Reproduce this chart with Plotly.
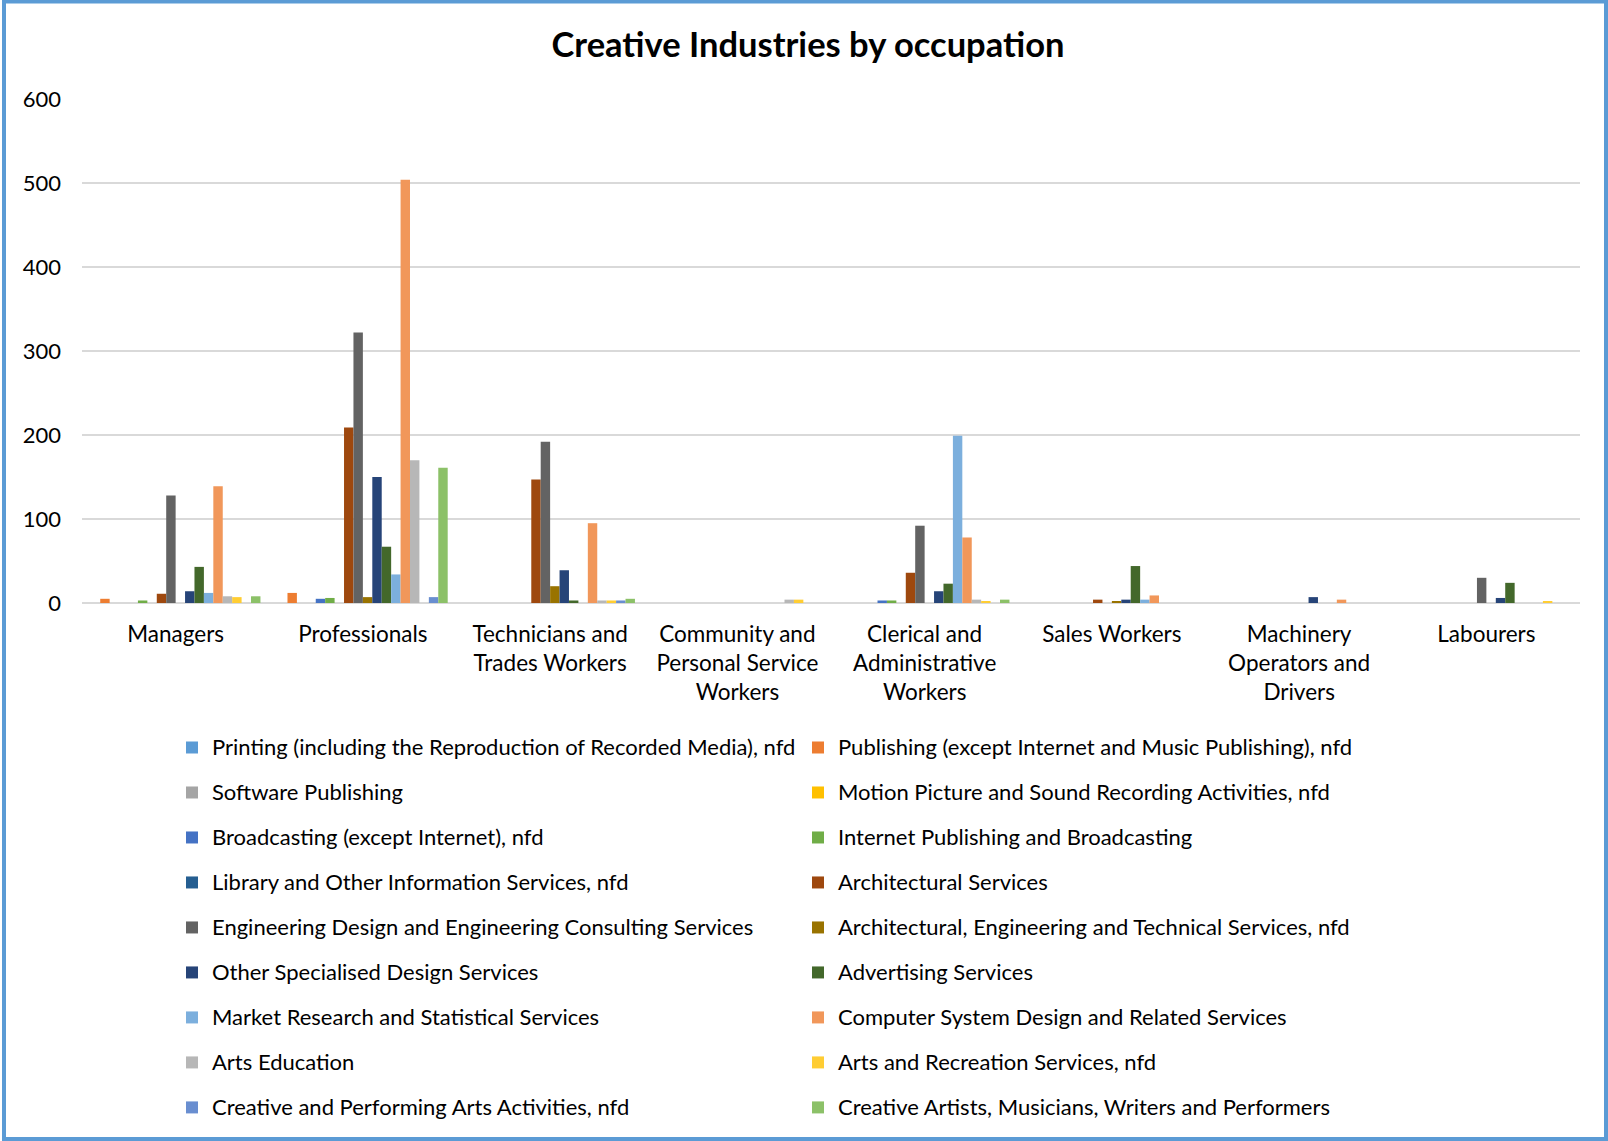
import plotly.graph_objects as go

# Occupation groups on the category axis
occupations = [
    "Managers",
    "Professionals",
    "Technicians and<br>Trades Workers",
    "Community and<br>Personal Service<br>Workers",
    "Clerical and<br>Administrative<br>Workers",
    "Sales Workers",
    "Machinery<br>Operators and<br>Drivers",
    "Labourers",
]

# Industry series (legend order)
industries = [
    "Printing (including the Reproduction of Recorded Media), nfd",
    "Publishing (except Internet and Music Publishing), nfd",
    "Software Publishing",
    "Motion Picture and Sound Recording Activities, nfd",
    "Broadcasting (except Internet), nfd",
    "Internet Publishing and Broadcasting",
    "Library and Other Information Services, nfd",
    "Architectural Services",
    "Engineering Design and Engineering Consulting Services",
    "Architectural, Engineering and Technical Services, nfd",
    "Other Specialised Design Services",
    "Advertising Services",
    "Market Research and Statistical Services",
    "Computer System Design and Related Services",
    "Arts Education",
    "Arts and Recreation Services, nfd",
    "Creative and Performing Arts Activities, nfd",
    "Creative Artists, Musicians, Writers and Performers",
]

# Counts per industry, one value per occupation group
printing            = [0, 0, 0, 0, 0, 0, 0, 0]
publishing          = [5, 12, 0, 0, 0, 0, 0, 0]
software_publishing = [0, 0, 0, 0, 0, 0, 0, 0]
motion_picture      = [0, 0, 0, 0, 0, 0, 0, 0]
broadcasting        = [0, 5, 0, 0, 3, 0, 0, 0]
internet_publishing = [3, 6, 0, 0, 3, 0, 0, 0]
library_services    = [0, 0, 0, 0, 0, 0, 0, 0]
architectural       = [11, 209, 147, 0, 36, 4, 0, 0]
engineering_design  = [128, 322, 192, 0, 92, 0, 0, 30]
arch_eng_tech_nfd   = [0, 7, 20, 0, 0, 2, 0, 0]
specialised_design  = [14, 150, 39, 0, 14, 4, 7, 6]
advertising         = [43, 67, 3, 0, 23, 44, 0, 24]
market_research     = [12, 34, 0, 0, 199, 4, 0, 0]
computer_systems    = [139, 504, 95, 0, 78, 9, 4, 0]
arts_education      = [8, 170, 3, 4, 4, 0, 0, 0]
arts_recreation     = [7, 0, 3, 4, 2, 0, 0, 2]
performing_arts     = [0, 7, 3, 0, 0, 0, 0, 0]
creative_artists    = [8, 161, 5, 0, 4, 0, 0, 0]

series_values = [
    printing, publishing, software_publishing, motion_picture, broadcasting,
    internet_publishing, library_services, architectural, engineering_design,
    arch_eng_tech_nfd, specialised_design, advertising, market_research,
    computer_systems, arts_education, arts_recreation, performing_arts,
    creative_artists,
]

colors = [
    "#5B9BD5", "#ED7D31", "#A5A5A5", "#FFC000", "#4472C4", "#70AD47",
    "#255E91", "#9E480E", "#636363", "#997300", "#264478", "#43682B",
    "#7CAFDD", "#F1975A", "#B7B7B7", "#FFCD33", "#698ED0", "#8CC168",
]

y_ticks = [0, 100, 200, 300, 400, 500, 600]

FONT = "Lato"
W, H = 1608, 1141
ML, MR, MT, MB = 82, 28, 99, 538
PW, PH = W - ML - MR, H - MT - MB

fig = go.Figure()
for name, vals, col in zip(industries, series_values, colors):
    fig.add_trace(go.Bar(
        x=occupations,
        y=vals,
        name=f"<span style='font-size:22px;baseline-shift:5px'>{name}</span>",
        marker=dict(color=col, line=dict(width=0)),
    ))


def px_x(p):
    return (p - ML) / PW


def px_y(p):
    return (H - MB - p) / PH


# Outer frame around the whole chart
fig.add_shape(
    type="rect", xref="paper", yref="paper",
    x0=px_x(4), x1=px_x(1606), y0=px_y(1139), y1=px_y(1.5),
    line=dict(color="#5B9BD5", width=4), layer="above",
)

fig.update_layout(
    width=W, height=H,
    margin=dict(l=ML, r=MR, t=MT, b=MB, autoexpand=False),
    paper_bgcolor="white", plot_bgcolor="white",
    font=dict(family=FONT, color="#000000", size=22),
    title=dict(
        text="<b>Creative Industries by occupation</b>",
        x=808 / W, xref="container", xanchor="center",
        y=1 - 45 / H, yref="container", yanchor="middle",
        font=dict(family=FONT, size=34.5, color="#000000"),
    ),
    barmode="group",
    bargap=0.094,
    bargroupgap=0,
    xaxis=dict(
        showgrid=False, showline=False, zeroline=False, ticks="",
        tickfont=dict(family=FONT, size=22.5, color="#000000"),
        ticklabelstandoff=15,
    ),
    yaxis=dict(
        range=[0, 600], tickvals=y_ticks,
        showgrid=True, gridcolor="#D9D9D9", gridwidth=1.5,
        zeroline=True, zerolinecolor="#D9D9D9", zerolinewidth=1.5,
        showline=False, ticks="",
        tickfont=dict(family=FONT, size=22, color="#000000"),
        ticklabelstandoff=20,
    ),
    legend=dict(
        orientation="h",
        x=px_x(172), xanchor="left",
        y=px_y(720), yanchor="top",
        entrywidth=581,
        font=dict(family=FONT, size=32.3, color="#000000"),
        bgcolor="rgba(0,0,0,0)",
        traceorder="normal",
    ),
    showlegend=True,
)

fig.write_html("out.html")
